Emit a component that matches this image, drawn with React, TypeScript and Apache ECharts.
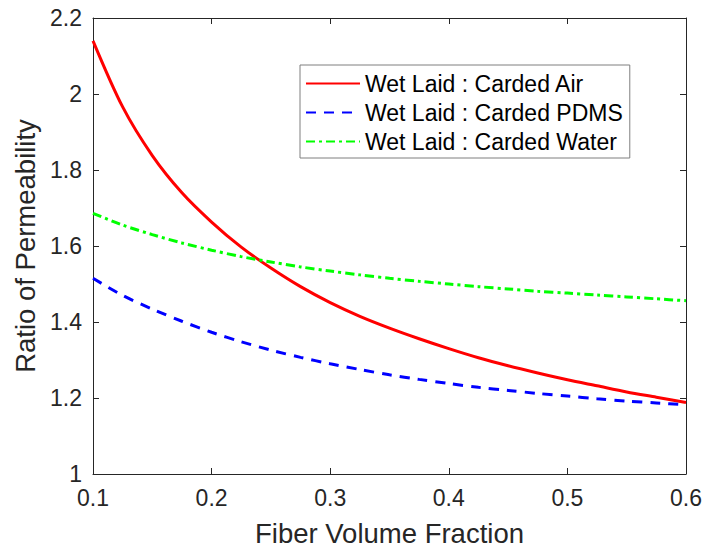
import React, { useEffect, useRef } from "react";
import * as echarts from "echarts";

const fiberFraction = [0.100, 0.125, 0.150, 0.175, 0.200, 0.225, 0.250, 0.275, 0.300, 0.325, 0.350, 0.375, 0.400, 0.425, 0.450, 0.475, 0.500, 0.525, 0.550, 0.575, 0.600];
const ratioAir = [2.140, 1.966, 1.838, 1.740, 1.663, 1.597, 1.542, 1.493, 1.451, 1.415, 1.384, 1.356, 1.330, 1.306, 1.285, 1.266, 1.248, 1.232, 1.216, 1.202, 1.188];
const ratioPDMS = [1.515, 1.470, 1.434, 1.402, 1.373, 1.348, 1.326, 1.307, 1.290, 1.275, 1.261, 1.249, 1.238, 1.228, 1.220, 1.212, 1.205, 1.198, 1.192, 1.187, 1.182];
const ratioWater = [1.686, 1.655, 1.630, 1.608, 1.589, 1.572, 1.558, 1.545, 1.534, 1.524, 1.515, 1.507, 1.500, 1.493, 1.487, 1.481, 1.476, 1.471, 1.466, 1.461, 1.456];
const seriesNames = ["Wet Laid : Carded Air", "Wet Laid : Carded PDMS", "Wet Laid : Carded Water"];

const FONT = "'Liberation Sans', Arial, sans-serif";
const AXIS_COLOR = "#262626";

export default function App() {
  const ref = useRef<HTMLDivElement>(null);
  useEffect(() => {
    if (!ref.current) return;
    const chart = echarts.init(ref.current, undefined, { renderer: "svg" });
    const pairs = (ys: number[]) => fiberFraction.map((x, i) => [x, ys[i]]);
    const axisLine = { show: true, onZero: false, lineStyle: { color: AXIS_COLOR, width: 1 } };
    const axisTick = { show: true, inside: true, length: 6, lineStyle: { color: AXIS_COLOR, width: 1 } };
    chart.setOption({
      animation: false,
      backgroundColor: "#ffffff",
      grid: { left: 93, right: 23, top: 18, bottom: 78, containLabel: false },
      xAxis: [
        {
          type: "value", min: 0.1, max: 0.6, interval: 0.1,
          name: "Fiber Volume Fraction", nameLocation: "middle", nameGap: 45,
          nameTextStyle: { fontFamily: FONT, fontSize: 27.5, color: AXIS_COLOR },
          axisLine, axisTick, splitLine: { show: false },
          axisLabel: { fontFamily: FONT, fontSize: 23, color: AXIS_COLOR, margin: 12, formatter: (v: number) => v.toFixed(1) },
        },
        {
          type: "value", min: 0.1, max: 0.6, interval: 0.1, position: "top",
          axisLine, axisTick, splitLine: { show: false }, axisLabel: { show: false },
        },
      ],
      yAxis: [
        {
          type: "value", min: 1, max: 2.2, interval: 0.2,
          name: "Ratio of Permeability", nameLocation: "middle", nameGap: 52,
          nameTextStyle: { fontFamily: FONT, fontSize: 27.5, color: AXIS_COLOR },
          axisLine, axisTick, splitLine: { show: false },
          axisLabel: { fontFamily: FONT, fontSize: 23, color: AXIS_COLOR, margin: 11, formatter: (v: number) => String(+v.toFixed(1)) },
        },
        {
          type: "value", min: 1, max: 2.2, interval: 0.2, position: "right",
          axisLine, axisTick, splitLine: { show: false }, axisLabel: { show: false },
        },
      ],
      legend: {
        orient: "vertical",
        left: 300, top: 65,
        padding: [4, 7, 2, 5],
        itemWidth: 54, itemHeight: 14, itemGap: 0,
        itemStyle: { opacity: 0 },
        backgroundColor: "#ffffff",
        borderColor: "#7f7f7f", borderWidth: 1, borderRadius: 0,
        textStyle: { fontFamily: FONT, fontSize: 23, color: "#000000", lineHeight: 29 },
        data: seriesNames,
      },
      series: [
        {
          name: seriesNames[0], type: "line", data: pairs(ratioAir), smooth: 0.3, symbol: "none",
          lineStyle: { color: "#ff0000", width: 3 }, itemStyle: { color: "#ff0000" },
        },
        {
          name: seriesNames[1], type: "line", data: pairs(ratioPDMS), smooth: 0.3, symbol: "none",
          lineStyle: { color: "#0000ff", width: 3, type: [10, 8] }, itemStyle: { color: "#0000ff" },
        },
        {
          name: seriesNames[2], type: "line", data: pairs(ratioWater), smooth: 0.3, symbol: "none",
          lineStyle: { color: "#00ff00", width: 3, type: [9, 4, 3, 4] }, itemStyle: { color: "#00ff00" },
        },
      ],
    });
    return () => chart.dispose();
  }, []);
  return <div ref={ref} style={{ width: 709, height: 552, position: "absolute", left: 0, top: 0 }} />;
}
